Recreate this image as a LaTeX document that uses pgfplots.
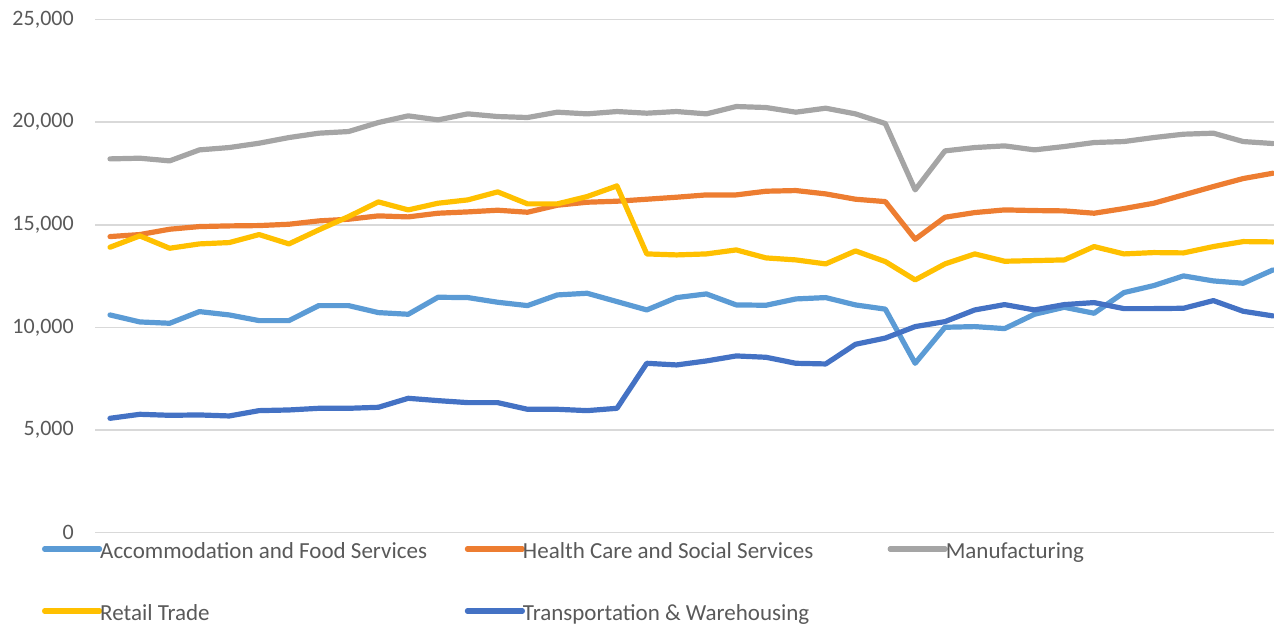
\documentclass[border=0pt]{standalone}
\usepackage{fontspec}
\setmainfont{Carlito}
\usepackage{pgfplots}
\pgfplotsset{compat=1.18}
\usepackage{pgfplotstable}
\definecolor{cAcc}{HTML}{5B9BD5}
\definecolor{cHea}{HTML}{ED7D31}
\definecolor{cMan}{HTML}{A5A5A5}
\definecolor{cRet}{HTML}{FFC000}
\definecolor{cTrn}{HTML}{4472C4}
\definecolor{labc}{HTML}{595959}
\definecolor{gridc}{HTML}{D9D9D9}
\pgfplotstableread{
k acc hlth manu ret trn
0 10607 14426 18212 13906 5570
1 10266 14524 18245 14459 5765
2 10201 14784 18115 13857 5716
3 10770 14914 18651 14069 5733
4 10607 14946 18765 14134 5684
5 10331 14962 18976 14524 5944
6 10331 15027 19252 14069 5976
7 11062 15190 19464 14751 6057
8 11062 15271 19545 15401 6057
9 10721 15434 19984 16116 6106
10 10640 15385 20309 15726 6545
11 11469 15564 20114 16051 6431
12 11453 15629 20406 16214 6334
13 11225 15710 20276 16604 6334
14 11062 15612 20228 16019 6009
15 11582 15954 20488 16019 6009
16 11664 16100 20406 16376 5944
17 11258 16149 20520 16896 6057
18 10851 16246 20439 13581 8251
19 11453 16344 20520 13532 8170
20 11631 16457 20406 13581 8365
21 11095 16457 20764 13776 8609
22 11079 16636 20715 13386 8544
23 11387 16669 20488 13289 8251
24 11453 16506 20682 13094 8219
25 11095 16246 20406 13727 9177
26 10890 16130 19935 13207 9480
27 8251 14296 16701 12314 10039
28 10006 15369 18602 13094 10282
29 10039 15596 18765 13581 10851
30 9941 15726 18846 13224 11111
31 10640 15694 18651 13256 10851
32 10981 15677 18814 13289 11111
33 10689 15564 19009 13939 11209
34 11696 15791 19057 13581 10916
35 12037 16051 19252 13646 10916
36 12509 16457 19415 13630 10932
37 12265 16864 19464 13939 11306
38 12151 17254 19057 14182 10786
39 12801 17514 18960 14166 10559
}\datatable
\newcommand{\lent}[1]{\makebox[170pt][l]{\rule[-3.5pt]{0pt}{14.5pt}#1}}
\begin{document}
\begin{tikzpicture}
\useasboundingbox (0,0) rectangle (637pt,313pt);
\begin{axis}[
  at={(47.55pt,46.7pt)}, anchor=south west,
  scale only axis, width=596.4pt, height=256.5pt,
  xmin=-0.5, xmax=39.5, ymin=0, ymax=25000,
  axis line style={draw=none},
  xtick=\empty, ytick={0,5000,10000,15000,20000,25000},
  major tick length=0pt,
  ymajorgrids, grid style={line width=0.75pt, color=gridc},
  scaled y ticks=false,
  /pgf/number format/fixed,
  /pgf/number format/1000 sep={,},
  /pgf/number format/assume math mode=true,
  yticklabel style={font=\fontsize{11}{13}\selectfont, text=labc, inner sep=0pt, xshift=-10.5pt},
  every axis plot/.append style={line width=2.6pt, line join=round, line cap=round},
  legend columns=3,
  legend cell align=left,
  legend style={draw=none, fill=none, at={(-0.04452,-0.0076)}, anchor=north west,
    inner sep=0pt, outer sep=0pt, font=\fontsize{11.5}{13.8}\selectfont, text=labc,
    row sep=18.5pt, nodes={inner sep=0pt},
    /tikz/every odd column/.append style={column sep=-1pt},
    /tikz/every even column/.append style={column sep=12.3pt}},
  legend image code/.code={\path (0pt,0pt) -- (27.5pt,0pt); \draw[#1, line cap=round] (1.3pt,0pt) -- (26.2pt,0pt);},
]
\addplot[color=cAcc] table[x=k,y=acc]{\datatable};
\addlegendentry{\lent{Accommodation and Food Services}}
\addplot[color=cHea] table[x=k,y=hlth]{\datatable};
\addlegendentry{\lent{Health Care and Social Services}}
\addplot[color=cMan] table[x=k,y=manu]{\datatable};
\addlegendentry{\lent{Manufacturing}}
\addplot[color=cRet] table[x=k,y=ret]{\datatable};
\addlegendentry{\lent{Retail Trade}}
\addplot[color=cTrn] table[x=k,y=trn]{\datatable};
\addlegendentry{\lent{Transportation \& Warehousing}}
\end{axis}
\end{tikzpicture}
\end{document}
